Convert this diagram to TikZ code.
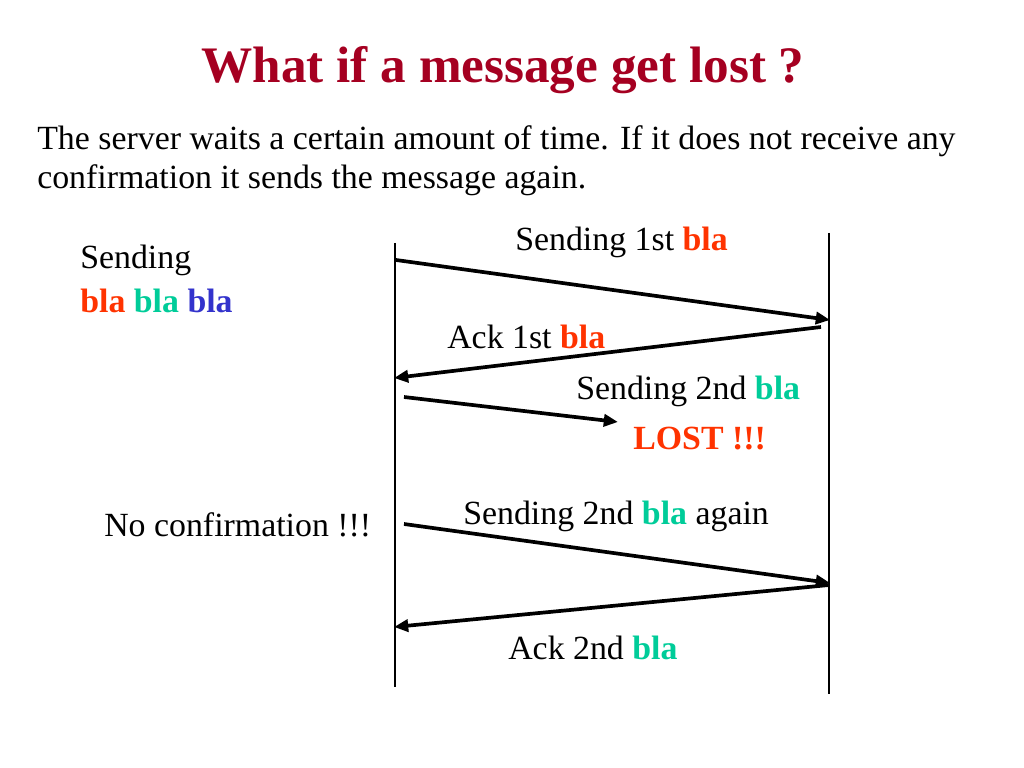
\documentclass[tikz,border=0pt]{standalone}
\usepackage{fontspec}
\setmainfont{Liberation Serif}
\usetikzlibrary{arrows.meta}
\definecolor{titlered}{HTML}{A50021}
\definecolor{blared}{HTML}{FF3300}
\definecolor{blagreen}{HTML}{00CC99}
\definecolor{blablue}{HTML}{3333CC}
\newcommand{\blaone}{\textbf{\color{blared}bla}}
\newcommand{\blatwo}{\textbf{\color{blagreen}bla}}
\newcommand{\blathree}{\textbf{\color{blablue}bla}}
\begin{document}
\begin{tikzpicture}[x=0.703125pt,y=-0.703125pt]

		\tikzset{label/.style = {inner sep=0pt,anchor=west,font=\fontsize{23.8}{29}\selectfont}}
		\tikzset{lifeline/.style = {line width=0.8pt}}
		\tikzset{edge/.style = {->,> = {Triangle[length=10pt,width=8.5pt]},line width=2.6pt}}
		\useasboundingbox (0,0) rectangle (1024,768);
		% texts
		\node[inner sep=0pt,text=titlered,font=\fontsize{36}{44}\selectfont\bfseries] (title) at (503,70) {What if a message get lost ?};
		\node[label] (intro1) at (37,141) {The server waits a certain amount of time. If it does not receive any};
		\node[label] (intro2) at (37,180) {confirmation it sends the message again.};
		\node[label] (sending) at (80,260) {Sending};
		\node[label] (blas) at (80,301) {\blaone{} \blatwo{} \blathree};
		\node[label] (send1) at (515,242) {Sending 1st \blaone};
		\node[label] (ack1) at (447,337) {Ack 1st \blaone};
		\node[label] (send2) at (576,391) {Sending 2nd \blatwo};
		\node[label,font=\fontsize{23.8}{29}\selectfont\bfseries,text=blared] (lost) at (633,439) {LOST !!!};
		\node[label] (noconf) at (104,525) {No confirmation !!!};
		\node[label] (again) at (463,516) {Sending 2nd \blatwo{} again};
		\node[label] (ack2) at (508,648) {Ack 2nd \blatwo};
		% lifelines
		\coordinate (ltop) at (395,243);
		\coordinate (lbot) at (395,687);
		\coordinate (rtop) at (829,233);
		\coordinate (rbot) at (829,694);
		\draw[lifeline] (ltop) -- (lbot);
		\draw[lifeline] (rtop) -- (rbot);
		% messages
		\coordinate (s1a) at (396,260);
		\coordinate (s1b) at (830,320);
		\coordinate (a1a) at (821,327);
		\coordinate (a1b) at (394,378);
		\coordinate (s2a) at (404,397);
		\coordinate (s2b) at (618,422);
		\coordinate (s3a) at (404,524);
		\coordinate (s3b) at (830,583);
		\coordinate (a2a) at (829,585);
		\coordinate (a2b) at (394,627);
		\draw[edge] (s1a) -- (s1b);
		\draw[edge] (a1a) -- (a1b);
		\draw[edge] (s2a) -- (s2b);
		\draw[edge] (s3a) -- (s3b);
		\draw[edge] (a2a) -- (a2b);
\end{tikzpicture}
\end{document}
